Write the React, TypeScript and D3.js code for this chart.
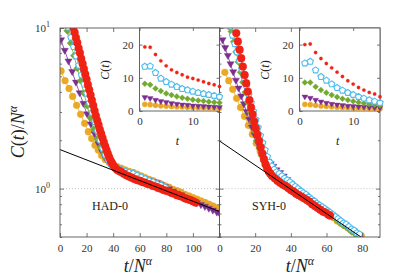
import { useEffect, useRef } from "react";
import * as d3 from "d3";

type Pt = [number, number];

// HAD-0 main panel: [t/N^α, C(t)/N^α]
const hadOrange: Pt[] = [
  [0.8, 5.4], [3.8, 4.7], [6.8, 4.2], [9.5, 3.75], [12.5, 3.3], [15.5, 2.9], [18.5, 2.55], [21.3, 2.26],
  [23.8, 2.05], [26.3, 1.86], [28.8, 1.74], [31.3, 1.61], [34, 1.52], [37, 1.46], [40, 1.41], [43, 1.37],
  [46, 1.34], [49, 1.31], [52, 1.28], [55, 1.26], [58, 1.23], [61, 1.2], [64, 1.17], [67, 1.14], [70, 1.12],
  [73, 1.09], [76, 1.07], [79, 1.04], [82, 1.02], [85, 0.99], [88, 0.97], [91, 0.95], [94, 0.92], [97, 0.9],
  [100, 0.88], [103, 0.86], [106, 0.84], [109, 0.82], [112, 0.8], [115, 0.78], [118, 0.76],
];
const hadPurple: Pt[] = [
  [0.8, 8.4], [3.6, 7.21], [6.4, 6.19], [9.2, 5.32], [12, 4.57], [14.8, 3.93], [17.6, 3.37], [20.4, 2.9],
  [23.2, 2.51], [26, 2.19], [28.8, 1.9], [31.6, 1.69], [34.4, 1.53], [37.2, 1.43], [40, 1.36], [43, 1.32],
  [46, 1.28], [49, 1.25], [52, 1.23], [55, 1.21], [58, 1.18], [61, 1.16], [64, 1.14], [67, 1.12], [70, 1.1],
  [73, 1.08], [76, 1.05], [79, 1.02], [82, 0.99], [85, 0.96], [88, 0.93], [91, 0.91], [94, 0.88], [97, 0.85],
  [100, 0.83], [103, 0.81], [106, 0.79], [109, 0.77], [112, 0.75], [115, 0.73], [118, 0.71], [120, 0.7],
];
const hadGreen: Pt[] = [
  [5.5, 9.6], [8, 8.05], [10.5, 6.73], [13, 5.62], [15.5, 4.7], [18, 3.93], [20.5, 3.28], [23, 2.75],
  [25.5, 2.34], [28, 2.04], [30.5, 1.82], [33, 1.66], [35.5, 1.55], [38, 1.46], [40.5, 1.4], [43, 1.34],
  [46, 1.3], [49, 1.26], [52, 1.23], [55, 1.2], [58, 1.17], [61, 1.14], [64, 1.12], [67, 1.09], [70, 1.07],
  [73, 1.05], [76, 1.02], [79, 1.0],
];
const hadCyan: Pt[] = [
  [6.2, 10.1], [8.2, 8.75], [10.2, 7.64], [12.2, 6.68], [14.2, 5.85], [16.2, 5.1], [18.2, 4.47], [20.2, 3.91],
  [22.2, 3.41], [24.2, 2.98], [26.2, 2.61], [28.2, 2.29], [30.2, 2.0], [32.2, 1.78], [34.2, 1.62], [36.2, 1.51],
  [38.2, 1.43], [40.2, 1.38], [43, 1.34], [46, 1.31], [49, 1.28], [52, 1.26], [55, 1.24], [58, 1.21],
  [61, 1.18], [64, 1.15], [67, 1.12], [70, 1.1], [73, 1.07], [76, 1.05], [79, 1.02],
];
const hadRed: Pt[] = [
  [10, 10.1], [11, 9.4], [12, 8.7], [13, 8.1], [14, 7.5], [15, 7.0], [16, 6.45], [17, 6.0], [18, 5.56],
  [19, 5.16], [20, 4.79], [21, 4.44], [22, 4.12], [23, 3.83], [24, 3.55], [25, 3.3], [26, 3.06], [27, 2.85],
  [28, 2.66], [29, 2.5], [30, 2.33], [31, 2.2], [32, 2.07], [33, 1.95], [34, 1.84], [35, 1.74], [36, 1.65],
  [37, 1.57], [38, 1.5], [39, 1.45], [40, 1.4], [41.5, 1.35], [43, 1.31], [44.5, 1.29], [46, 1.27], [48, 1.24],
  [50, 1.21], [52, 1.19], [54, 1.17], [56, 1.15], [58, 1.13], [60, 1.12], [62, 1.1], [64, 1.09], [66, 1.07],
  [68, 1.06], [70, 1.04], [72, 1.03], [74, 1.01], [76, 1.0], [78, 0.98], [80, 0.97], [82, 0.96], [84, 0.94],
  [86, 0.93], [88, 0.91], [90, 0.9], [92, 0.89], [94, 0.87], [96, 0.86], [98, 0.85], [100, 0.835], [102, 0.82],
];
const hadFit: Pt[] = [[0, 1.75], [120, 0.72]];

// SYH-0 main panel
const syhOrange: Pt[] = [
  [3, 5.3], [5.2, 4.7], [7.4, 4.15], [9.6, 3.65], [11.8, 3.2], [14, 2.82], [16.2, 2.48], [18.4, 2.18],
  [20.6, 1.92], [22.8, 1.7], [25, 1.53], [27.2, 1.4], [29.4, 1.3], [31.6, 1.23], [33.8, 1.17], [36, 1.12],
  [38, 1.07], [40, 1.03], [42, 0.99], [44, 0.95], [46, 0.92], [48, 0.88], [50, 0.85], [52, 0.82], [54, 0.79],
  [56, 0.76], [58, 0.73], [60, 0.71], [62, 0.68], [64, 0.66], [66, 0.63], [68, 0.61], [70, 0.59], [72, 0.57],
  [74, 0.55], [76, 0.54], [78, 0.52], [79.5, 0.51],
];
const syhPurple: Pt[] = [
  [1.7, 8.4], [3.2, 7.5], [4.7, 6.7], [6.2, 5.95], [7.7, 5.3], [9.2, 4.7], [10.7, 4.2], [12.2, 3.75],
  [13.7, 3.35], [15.2, 3.0], [16.7, 2.68], [18.2, 2.4], [19.7, 2.15], [21.2, 1.93], [22.7, 1.76], [24.2, 1.63],
  [25.7, 1.54], [27.2, 1.47], [28.7, 1.42], [30.2, 1.37], [32, 1.3], [34, 1.25], [36, 1.19], [38, 1.13],
  [40, 1.07], [42, 1.02], [44, 0.97], [46, 0.93], [48, 0.89], [50, 0.85], [52, 0.81], [54, 0.78], [56, 0.75],
  [58, 0.72], [60, 0.7],
];
const syhGreen: Pt[] = [
  [6.7, 9.5], [8, 8.2], [9.3, 7.1], [10.6, 6.15], [11.9, 5.3], [13.2, 4.6], [14.5, 3.98], [15.8, 3.45],
  [17.1, 3.0], [18.4, 2.6], [19.7, 2.28], [21, 2.0], [22.3, 1.78], [23.6, 1.6], [24.9, 1.47], [26.2, 1.38],
  [27.5, 1.32], [29, 1.28], [30.5, 1.25], [32, 1.22], [33.5, 1.2], [35, 1.17], [36.5, 1.13], [38, 1.1],
  [39.5, 1.06], [41, 1.03], [42.5, 1.0], [44, 0.97], [45.5, 0.94], [47, 0.91], [48.5, 0.89], [50, 0.86],
  [51.5, 0.84], [53, 0.81], [54.5, 0.79], [56, 0.77], [57.5, 0.75], [59, 0.73], [60.5, 0.71], [62, 0.69],
  [63.5, 0.67], [65, 0.65], [66.5, 0.63], [68, 0.61], [69.5, 0.59], [71, 0.58], [72.5, 0.56], [74, 0.54],
  [75.5, 0.53], [77, 0.51], [78.5, 0.5],
];
const syhCyan: Pt[] = [
  [6, 10.2], [7.3, 9.0], [8.6, 7.98], [9.9, 7.08], [11.2, 6.27], [12.5, 5.55], [13.8, 4.92], [15.1, 4.36],
  [16.4, 3.86], [17.7, 3.42], [19, 3.03], [20.3, 2.69], [21.6, 2.4], [22.9, 2.14], [24.2, 1.93], [25.5, 1.74],
  [26.8, 1.58], [28.1, 1.46], [29.4, 1.38], [30.7, 1.32], [32, 1.27], [33.5, 1.24], [35, 1.2], [36.5, 1.16],
  [38, 1.13], [39.5, 1.1], [41, 1.06], [42.5, 1.03], [44, 1.0], [45.5, 0.97], [47, 0.94], [48.5, 0.92],
  [50, 0.89], [51.5, 0.86], [53, 0.84], [54.5, 0.81], [56, 0.79], [57.5, 0.77], [59, 0.75], [60.5, 0.73],
  [62, 0.71], [63.5, 0.69], [65, 0.67], [66.5, 0.65], [68, 0.63], [69.5, 0.61], [71, 0.6], [72.5, 0.58],
  [74, 0.56], [75.5, 0.55], [77, 0.53], [78.5, 0.52],
];
const syhRed: Pt[] = [
  [9.4, 9.3], [10.3, 8.25], [11.3, 7.32], [12.2, 6.49], [13.1, 5.75], [14.1, 5.1], [15, 4.53], [15.9, 4.02],
  [16.8, 3.56], [17.7, 3.2], [18.6, 2.9], [19.5, 2.62], [20.4, 2.38], [21.3, 2.17], [22.2, 1.98], [23.1, 1.81],
  [24, 1.66], [24.9, 1.53], [25.8, 1.42], [26.7, 1.34], [27.6, 1.28], [28.5, 1.24], [29.5, 1.2], [31, 1.16],
  [32.5, 1.12], [34, 1.09], [35.5, 1.06], [37, 1.04], [38.5, 1.01], [40, 0.98], [41.5, 0.96], [43, 0.93],
  [44.5, 0.91], [46, 0.89], [47.5, 0.87], [49, 0.85], [50.5, 0.83], [52, 0.8], [53.5, 0.78], [55, 0.76],
  [56.5, 0.74], [58, 0.72], [59.5, 0.71], [61, 0.69], [62, 0.68],
];
const syhFit: Pt[] = [[0, 1.98], [80, 0.494]];

// insets: C(t) vs t
const insetT = [1, 2, 3, 4, 5, 6, 7, 8, 9, 10, 11, 12, 13, 14, 15];
const hadInRed = [19.3, 19.2, 17.0, 15.1, 13.6, 12.4, 11.6, 10.9, 10.2, 9.8, 9.3, 8.8, 8.3, 7.9, 7.4];
const hadInCyan = [13.4, 13.5, 11.5, 9.8, 8.8, 8.0, 7.3, 6.7, 6.3, 5.9, 5.5, 5.2, 4.9, 4.6, 4.3];
const hadInGreen = [8.2, 7.9, 6.8, 6.0, 5.3, 4.8, 4.4, 4.0, 3.7, 3.4, 3.2, 3.0, 2.8, 2.6, 2.5];
const hadInPurple = [4.0, 3.7, 3.2, 2.8, 2.5, 2.2, 2.0, 1.8, 1.7, 1.5, 1.4, 1.3, 1.2, 1.1, 1.0];
const hadInOrange = [2.0, 1.9, 1.7, 1.55, 1.45, 1.35, 1.25, 1.2, 1.1, 1.05, 1.0, 0.95, 0.9, 0.85, 0.8];
const syhInRed = [20.0, 20.2, 17.6, 15.8, 14.3, 13.0, 11.7, 10.4, 9.1, 8.1, 7.1, 6.3, 5.6, 5.1, 4.3];
const syhInCyan = [14.4, 14.9, 12.3, 10.3, 9.2, 8.1, 7.0, 6.2, 5.5, 4.9, 4.3, 3.8, 3.3, 2.9, 2.5];
const syhInGreen = [8.6, 8.6, 7.3, 6.3, 5.5, 4.8, 4.2, 3.7, 3.3, 2.9, 2.6, 2.3, 2.1, 1.9, 1.7];
const syhInPurple = [4.2, 3.8, 3.2, 2.7, 2.3, 2.0, 1.8, 1.6, 1.4, 1.3, 1.2, 1.1, 1.0, 0.9, 0.8];
const syhInOrange = [2.0, 1.9, 1.7, 1.5, 1.4, 1.25, 1.15, 1.05, 1.0, 0.9, 0.85, 0.8, 0.75, 0.7, 0.65];

const xTicksHad = [0, 20, 40, 60, 80, 100, 120];
const xTicksSyh = [0, 20, 40, 60, 80];
const yMajor = [1, 10];
const yMinor = [0.5, 0.6, 0.7, 0.8, 0.9, 2, 3, 4, 5, 6, 7, 8, 9];
const inXTicks = [0, 10];
const inYTicks = [0, 10, 20];

const C = {
  orange: "#eaa824",
  purple: "#7b2f8f",
  green: "#72a92f",
  cyan: "#4dbdee",
  red: "#ef2214",
};

type Shape = "circle" | "tri" | "diamond" | "pent";

function marker(shape: Shape, r: number) {
  if (shape === "circle") return d3.symbol(d3.symbolCircle, Math.PI * r * r)() ?? "";
  if (shape === "tri") return `M${-r},${-r * 0.7}L${r},${-r * 0.7}L0,${r * 1.0}Z`;
  if (shape === "diamond") return `M0,${-r}L${r},0L0,${r}L${-r},0Z`;
  const pts = d3.range(5).map((i) => {
    const a = -Math.PI / 2 + (i * 2 * Math.PI) / 5;
    return [r * Math.cos(a), r * Math.sin(a)];
  });
  return "M" + pts.map((p) => p.join(",")).join("L") + "Z";
}

const FONT = "'Liberation Serif', 'DejaVu Serif', serif";

export default function App() {
  const ref = useRef<SVGSVGElement>(null);

  useEffect(() => {
    if (!ref.current) return;
    const svg = d3.select(ref.current);
    svg.selectAll("*").remove();

    const top = 28;
    const bottom = 237;
    const y = d3.scaleLog().domain([0.5, 10]).range([bottom, top]);
    const xL = d3.scaleLinear().domain([0, 120]).range([60, 219.5]);
    const xR = d3.scaleLinear().domain([0, 90]).range([219.5, 380]);

    const styleAxis = (g: d3.Selection<SVGGElement, unknown, null, undefined>) => {
      g.select(".domain").remove();
      g.selectAll(".tick line").attr("stroke", "#555").attr("stroke-width", 0.8);
      g.selectAll(".tick text").attr("fill", "#333").attr("font-size", 11).attr("font-family", FONT);
    };

    const mainSeries = (o: Pt[], p: Pt[], g: Pt[], c: Pt[], r: Pt[]) => [
      { data: o, color: C.orange, shape: "circle" as Shape, size: 3.4, filled: true },
      { data: p, color: C.purple, shape: "tri" as Shape, size: 3.6, filled: true },
      { data: g, color: C.green, shape: "diamond" as Shape, size: 3.6, filled: true },
      { data: c, color: C.cyan, shape: "pent" as Shape, size: 3.4, filled: false },
      { data: r, color: C.red, shape: "circle" as Shape, size: 3.9, filled: true },
    ];

    const panel = (
      x: d3.ScaleLinear<number, number>,
      ticks: number[],
      labelTicks: number[],
      yLabels: boolean,
      series: ReturnType<typeof mainSeries>,
      fit: Pt[],
      id: string,
    ) => {
      const [x0, x1] = x.range();
      svg.append("defs").append("clipPath").attr("id", id)
        .append("rect").attr("x", x0).attr("y", top).attr("width", x1 - x0).attr("height", bottom - top);
      const g = svg.append("g");

      g.append("line")
        .attr("x1", x0).attr("x2", x1).attr("y1", y(1)).attr("y2", y(1))
        .attr("stroke", "#aaa").attr("stroke-width", 0.7).attr("stroke-dasharray", "1,2");

      const plot = g.append("g").attr("clip-path", `url(#${id})`);
      const line = d3.line<Pt>().x((d) => x(d[0])).y((d) => y(d[1]));
      series.forEach((s) => {
        plot.append("path").datum(s.data).attr("d", line)
          .attr("fill", "none").attr("stroke", s.color).attr("stroke-width", 0.8);
        plot.selectAll(null).data(s.data).join("path")
          .attr("d", marker(s.shape, s.size))
          .attr("transform", (d) => `translate(${x(d[0])},${y(d[1])})`)
          .attr("fill", s.filled ? s.color : "#fff")
          .attr("stroke", s.color)
          .attr("stroke-width", s.filled ? 0.4 : 1.1);
      });
      plot.append("path").datum(fit).attr("d", line)
        .attr("fill", "none").attr("stroke", "#000").attr("stroke-width", 1);

      g.append("rect").attr("x", x0).attr("y", top).attr("width", x1 - x0).attr("height", bottom - top)
        .attr("fill", "none").attr("stroke", "#555").attr("stroke-width", 0.9);

      g.append("g").attr("transform", `translate(0,${bottom})`)
        .call(d3.axisBottom(x).tickValues(ticks).tickSizeInner(-4).tickSizeOuter(0).tickPadding(7)
          .tickFormat((d) => (labelTicks.includes(+d) ? String(d) : "")))
        .call(styleAxis);
      g.append("g").attr("transform", `translate(0,${top})`)
        .call(d3.axisTop(x).tickValues(ticks).tickSizeInner(-4).tickSizeOuter(0).tickFormat(() => ""))
        .call(styleAxis);

      const left = g.append("g").attr("transform", `translate(${x0},0)`)
        .call(d3.axisLeft(y).tickValues(yMajor).tickSizeInner(-4).tickSizeOuter(0).tickPadding(10)
          .tickFormat(() => ""))
        .call(styleAxis);
      if (yLabels) {
        left.selectAll<SVGTextElement, number>(".tick text").each(function (d) {
          const t = d3.select(this);
          t.append("tspan").text("10");
          t.append("tspan").attr("dy", -5).attr("font-size", 8).text(String(Math.round(Math.log10(d))));
        });
      }
      g.append("g").attr("transform", `translate(${x0},0)`)
        .call(d3.axisLeft(y).tickValues(yMinor).tickSizeInner(-2).tickSizeOuter(0).tickFormat(() => ""))
        .call(styleAxis);
      g.append("g").attr("transform", `translate(${x1},0)`)
        .call(d3.axisRight(y).tickValues(yMajor).tickSizeInner(-4).tickSizeOuter(0).tickFormat(() => ""))
        .call(styleAxis);
      g.append("g").attr("transform", `translate(${x1},0)`)
        .call(d3.axisRight(y).tickValues(yMinor).tickSizeInner(-2).tickSizeOuter(0).tickFormat(() => ""))
        .call(styleAxis);
    };

    panel(xL, xTicksHad, [0, 20, 40, 60, 80, 100], true,
      mainSeries(hadOrange, hadPurple, hadGreen, hadCyan, hadRed), hadFit, "clipHad");
    panel(xR, xTicksSyh, xTicksSyh, false,
      mainSeries(syhOrange, syhPurple, syhGreen, syhCyan, syhRed), syhFit, "clipSyh");

    // insets
    const inset = (x0: number, x1: number, vals: number[][]) => {
      const xi = d3.scaleLinear().domain([0, 15]).range([x0, x1]);
      const yi = d3.scaleLinear().domain([0, 25]).range([111, top]);
      const g = svg.append("g");
      g.append("rect").attr("x", x0).attr("y", top).attr("width", x1 - x0).attr("height", 111 - top)
        .attr("fill", "#fff").attr("stroke", "#555").attr("stroke-width", 0.9);
      const styles = [
        { color: C.orange, shape: "circle" as Shape, size: 2.6, filled: true },
        { color: C.purple, shape: "tri" as Shape, size: 3.0, filled: true },
        { color: C.green, shape: "diamond" as Shape, size: 3.0, filled: true },
        { color: C.cyan, shape: "pent" as Shape, size: 3.3, filled: false },
        { color: C.red, shape: "circle" as Shape, size: 1.7, filled: true },
      ];
      vals.forEach((v, k) => {
        const s = styles[k];
        g.selectAll(null).data(v).join("path")
          .attr("d", marker(s.shape, s.size))
          .attr("transform", (d, i) => `translate(${xi(insetT[i])},${yi(d)})`)
          .attr("fill", s.filled ? s.color : "#fff")
          .attr("stroke", s.color)
          .attr("stroke-width", s.filled ? 0.3 : 1.1);
      });
      g.append("g").attr("transform", `translate(0,111)`)
        .call(d3.axisBottom(xi).tickValues(inXTicks).tickSizeInner(-3).tickSizeOuter(0).tickPadding(6))
        .call(styleAxis);
      g.append("g").attr("transform", `translate(0,${top})`)
        .call(d3.axisTop(xi).tickValues(inXTicks).tickSizeInner(-3).tickSizeOuter(0).tickFormat(() => ""))
        .call(styleAxis);
      g.append("g").attr("transform", `translate(${x0},0)`)
        .call(d3.axisLeft(yi).tickValues(inYTicks).tickSizeInner(-3).tickSizeOuter(0).tickPadding(6))
        .call(styleAxis);
      g.append("g").attr("transform", `translate(${x1},0)`)
        .call(d3.axisRight(yi).tickValues(inYTicks).tickSizeInner(-3).tickSizeOuter(0).tickFormat(() => ""))
        .call(styleAxis);
      const yl = g.append("text")
        .attr("transform", `translate(${x0 - 31},${70}) rotate(-90)`)
        .attr("text-anchor", "middle").attr("font-size", 12).attr("font-family", FONT).attr("fill", "#222");
      yl.append("tspan").attr("font-style", "italic").text("C");
      yl.append("tspan").text("(");
      yl.append("tspan").attr("font-style", "italic").text("t");
      yl.append("tspan").text(")");
      g.append("text").attr("x", (x0 + x1) / 2 - 2).attr("y", 145)
        .attr("text-anchor", "middle").attr("font-size", 12).attr("font-style", "italic")
        .attr("font-family", FONT).attr("fill", "#222").text("t");
    };
    inset(139.5, 219.5, [hadInOrange, hadInPurple, hadInGreen, hadInCyan, hadInRed]);
    inset(299.5, 380, [syhInOrange, syhInPurple, syhInGreen, syhInCyan, syhInRed]);

    // panel names
    svg.append("text").attr("x", 110).attr("y", 210).attr("text-anchor", "middle")
      .attr("font-size", 12).attr("font-family", FONT).attr("fill", "#222").text("HAD-0");
    svg.append("text").attr("x", 269).attr("y", 210).attr("text-anchor", "middle")
      .attr("font-size", 12).attr("font-family", FONT).attr("fill", "#222").text("SYH-0");

    // axis titles
    const xt = (cx: number) => {
      const t = svg.append("text").attr("x", cx).attr("y", 272).attr("text-anchor", "middle")
        .attr("font-size", 18).attr("font-family", FONT).attr("fill", "#222");
      t.append("tspan").attr("font-style", "italic").text("t");
      t.append("tspan").text("/");
      t.append("tspan").attr("font-style", "italic").text("N");
      t.append("tspan").attr("font-style", "italic").attr("dy", -7).attr("font-size", 12).text("α");
    };
    xt(138);
    xt(300);
    const yt = svg.append("text").attr("transform", "translate(24,132) rotate(-90)")
      .attr("text-anchor", "middle").attr("font-size", 18).attr("font-family", FONT).attr("fill", "#222");
    yt.append("tspan").attr("font-style", "italic").text("C");
    yt.append("tspan").text("(");
    yt.append("tspan").attr("font-style", "italic").text("t");
    yt.append("tspan").text(")/");
    yt.append("tspan").attr("font-style", "italic").text("N");
    yt.append("tspan").attr("font-style", "italic").attr("dy", -7).attr("font-size", 12).text("α");
  }, []);

  return (
    <svg
      ref={ref}
      width={399}
      height={279}
      style={{ position: "absolute", left: 0, top: 0, background: "#fff" }}
    />
  );
}
